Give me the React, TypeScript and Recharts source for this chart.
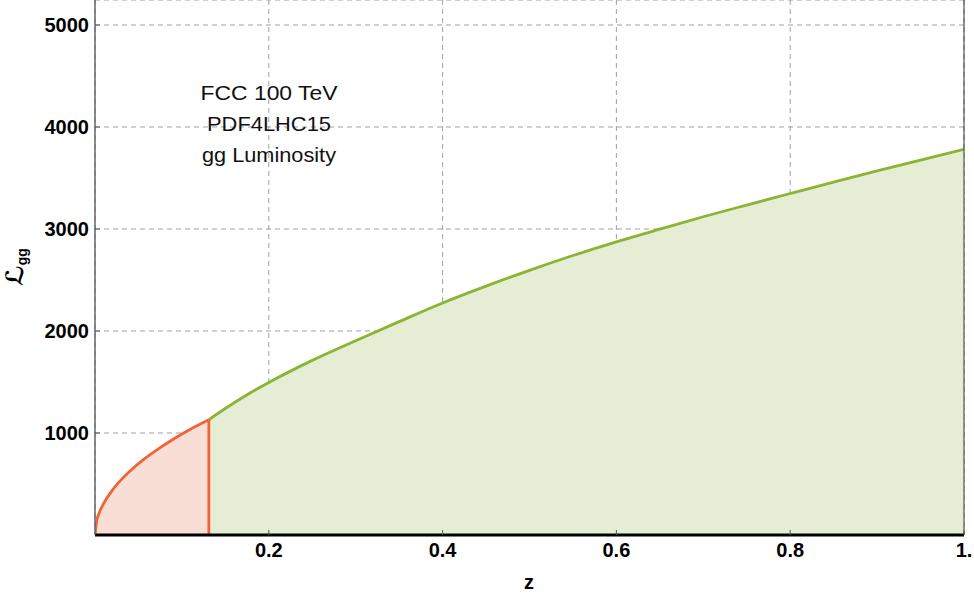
import { ComposedChart, Area, XAxis, YAxis, CartesianGrid, ReferenceLine } from 'recharts';

const zLow = [0, 0.002, 0.005, 0.01, 0.02, 0.03, 0.04, 0.055, 0.07, 0.085, 0.1, 0.115, 0.131];
const lumLow = [0, 140, 220, 310, 440, 540, 625, 735, 828, 912, 990, 1062, 1131];

const zHigh = [0.131, 0.15, 0.175, 0.2, 0.25, 0.3, 0.35, 0.4, 0.45, 0.5, 0.55, 0.6, 0.65, 0.7, 0.75, 0.8, 0.85, 0.9, 0.95, 1.0];
const lumHigh = [1131, 1240, 1375, 1495, 1712, 1905, 2092, 2275, 2440, 2595, 2740, 2874, 2998, 3120, 3235, 3348, 3460, 3570, 3675, 3780];

const xTicks = [0.2, 0.4, 0.6, 0.8, 1];
const yTicks = [1000, 2000, 3000, 4000, 5000];
const yMax = 5245;

const annotation = ['FCC 100 TeV', 'PDF4LHC15', 'gg Luminosity'];
const annotationWidths = [137, 124, 134];

const lowData = zLow.map((z, i) => ({ z, lum: lumLow[i] }));
const highData = zHigh.map((z, i) => ({ z, lum: lumHigh[i] }));

const ORANGE = '#ef6438';
const ORANGE_FILL = '#f9ded5';
const GREEN = '#8db334';
const GREEN_FILL = '#e6edd5';
const FONT = '"Liberation Sans", Arial, Helvetica, sans-serif';

const tickStyle = { fontSize: 20, fontWeight: 700, fill: '#000', fontFamily: FONT };

export default function App() {
  const cut = zLow[zLow.length - 1];
  const cutLum = lumLow[lumLow.length - 1];
  return (
    <div style={{ position: 'absolute', left: 0, top: 0, width: 974, height: 598, background: '#fff' }}>
      <ComposedChart width={974} height={598} margin={{ top: 0, right: 10, left: 0, bottom: 0 }}>
        <CartesianGrid stroke="#a0a0a0" strokeDasharray="5 4" strokeWidth={1} />
        <XAxis
          type="number"
          dataKey="z"
          domain={[0, 1]}
          ticks={xTicks}
          height={63}
          allowDataOverflow
          tickFormatter={(v: number) => (v === 1 ? '1.' : String(v))}
          tick={tickStyle}
          tickSize={-5}
          tickMargin={13}
          tickLine={{ stroke: '#555' }}
          axisLine={{ stroke: '#000', strokeWidth: 3 }}
        />
        <YAxis
          type="number"
          domain={[0, yMax]}
          ticks={yTicks}
          width={95}
          allowDataOverflow
          tick={tickStyle}
          tickSize={-5}
          tickMargin={11}
          tickLine={{ stroke: '#555' }}
          axisLine={{ stroke: '#666', strokeWidth: 1.5 }}
        />
        <Area
          data={highData}
          dataKey="lum"
          type="monotone"
          stroke={GREEN}
          strokeWidth={2.8}
          fill={GREEN_FILL}
          fillOpacity={1}
          isAnimationActive={false}
          dot={false}
          activeDot={false}
        />
        <Area
          data={lowData}
          dataKey="lum"
          type="monotone"
          stroke={ORANGE}
          strokeWidth={2.8}
          fill={ORANGE_FILL}
          fillOpacity={1}
          isAnimationActive={false}
          dot={false}
          activeDot={false}
        />
        <ReferenceLine
          segment={[{ x: cut, y: 0 }, { x: cut, y: cutLum }]}
          stroke={ORANGE}
          strokeWidth={2.8}
        />
        <ReferenceLine x={1} stroke="#333" strokeWidth={1} />
        {annotation.map((line, i) => (
          <text
            key={line}
            x={269}
            y={100 + i * 31}
            textAnchor="middle"
            fontFamily={FONT}
            fontSize={21}
            textLength={annotationWidths[i]}
            lengthAdjust="spacingAndGlyphs"
            fill="#111"
          >
            {line}
          </text>
        ))}
        <text
          x={23}
          y={267}
          transform="rotate(-90, 23, 267)"
          textAnchor="middle"
          fontFamily='"DejaVu Serif", "DejaVu Sans", serif'
          fontSize={24}
          fontWeight={700}
          fill="#000"
        >
          ℒ<tspan fontSize={14} dy={4} fontFamily={FONT}>gg</tspan>
        </text>
        <text x={529} y={589} textAnchor="middle" fontFamily={FONT} fontSize={20} fontWeight={700} fill="#000">
          z
        </text>
      </ComposedChart>
    </div>
  );
}
